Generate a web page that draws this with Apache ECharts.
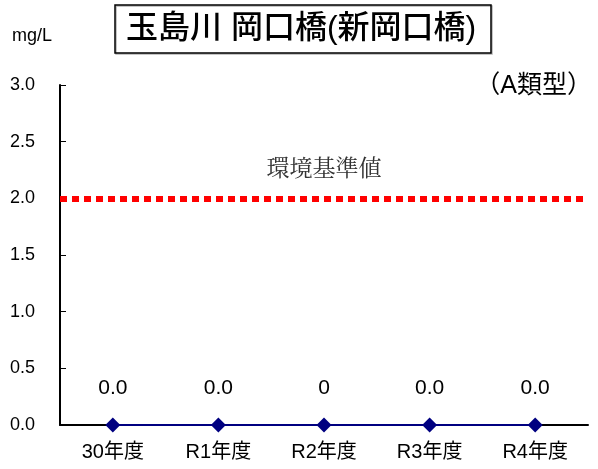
<!DOCTYPE html>
<html>
<head>
<meta charset="utf-8">
<script src="https://cdn.jsdelivr.net/npm/echarts@6/dist/echarts.min.js"></script>
<style>
  html, body { margin: 0; padding: 0; background: #fff; }
  #chart { width: 598px; height: 469px; }
</style>
</head>
<body>
<div id="chart"></div>
<script>
// 年度
const categories = ["30年度", "R1年度", "R2年度", "R3年度", "R4年度"]
// 測定値 (mg/L)
const values = [0.0, 0.0, 0, 0.0, 0.0]
const valueLabels = ["0.0", "0.0", "0", "0.0", "0.0"]
// 環境基準値
const standardValue = 2.0
const yTicks = [0, 0.5, 1.0, 1.5, 2.0, 2.5, 3.0]

const fontJp = "'Liberation Sans', 'Noto Sans CJK JP', sans-serif"

const chart = echarts.init(document.getElementById("chart"))
const option = {
  animation: false,
  textStyle: { fontFamily: fontJp },
  title: {
    text: "玉島川 岡口橋(新岡口橋)",
    left: 115,
    top: 5,
    padding: [8, 15, 8, 11],
    borderColor: "#000",
    borderWidth: 1.5,
    shadowColor: "rgba(0,0,0,0.3)",
    shadowOffsetX: 1,
    shadowOffsetY: 1,
    textStyle: {
      fontFamily: fontJp,
      fontSize: 32,
      fontWeight: 500,
      color: "#000"
    }
  },
  grid: { left: 60, right: 10, top: 85, bottom: 44 },
  xAxis: {
    type: "category",
    data: categories,
    boundaryGap: true,
    axisLine: { lineStyle: { color: "#000", width: 2 } },
    axisTick: { inside: true, length: 6, lineStyle: { color: "#000" } },
    axisLabel: { color: "#000", fontSize: 20, margin: 17, fontFamily: fontJp }
  },
  yAxis: {
    type: "value",
    min: yTicks[0],
    max: yTicks[yTicks.length - 1],
    interval: 0.5,
    axisLine: { show: true, lineStyle: { color: "#000", width: 2 } },
    axisTick: { show: true, inside: true, length: 6, lineStyle: { color: "#000" } },
    splitLine: { show: false },
    axisLabel: {
      color: "#000",
      fontSize: 18,
      margin: 25,
      formatter: v => v.toFixed(1)
    }
  },
  series: [
    {
      type: "line",
      data: values,
      symbol: "diamond",
      symbolSize: 15,
      lineStyle: { color: "#000080", width: 2 },
      itemStyle: { color: "#000080" },
      label: {
        show: true,
        position: "top",
        distance: 19,
        fontSize: 21,
        color: "#000",
        formatter: p => valueLabels[p.dataIndex]
      },
      markLine: {
        silent: true,
        symbol: "none",
        data: [{ yAxis: standardValue }],
        lineStyle: { color: "#ff0000", width: 6, type: [7, 5], cap: "butt" },
        label: {
          show: true,
          position: "middle",
          distance: 20,
          formatter: "環境基準値",
          fontSize: 23,
          color: "#333",
          fontFamily: "'Noto Serif CJK JP', 'Noto Sans CJK JP', serif"
        }
      },
      z: 3
    }
  ],
  graphic: [
    {
      type: "text",
      left: 12,
      top: 27,
      style: { text: "mg/L", fontSize: 18, fill: "#000", fontFamily: fontJp }
    },
    {
      type: "text",
      right: 6,
      top: 74,
      style: { text: "（A類型）", fontSize: 25, fill: "#000", fontFamily: fontJp }
    }
  ]
}
chart.setOption(option)
window.addEventListener("resize", () => chart.resize())
</script>
</body>
</html>
